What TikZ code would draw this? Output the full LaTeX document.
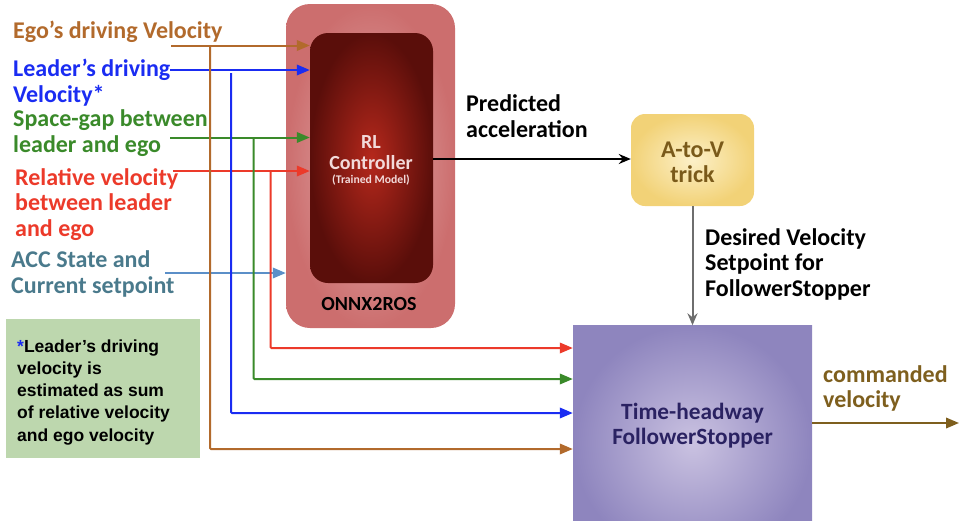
\documentclass[tikz,border=0pt]{standalone}
\usepackage{fontspec}
\setmainfont{Carlito}
\newfontfamily\notefont{Liberation Sans}
\usetikzlibrary{arrows.meta}
\definecolor{egoc}{HTML}{B26A2C}
\definecolor{leadc}{HTML}{1A2CF2}
\definecolor{gapc}{HTML}{3A8A2A}
\definecolor{relc}{HTML}{EC3A2A}
\definecolor{accc}{HTML}{4A7A8C}
\definecolor{acca}{HTML}{5B8FC8}
\definecolor{notec}{HTML}{BDD7AE}
\definecolor{cmdc}{HTML}{7E5F1E}
\definecolor{onnxin}{HTML}{E2AEAE}
\definecolor{onnxout}{HTML}{CC6E6E}
\definecolor{rlin}{HTML}{B5281C}
\definecolor{rlout}{HTML}{5A0E0A}
\definecolor{rltext}{HTML}{F2DADA}
\definecolor{atvin}{HTML}{FCF0C8}
\definecolor{atvout}{HTML}{F2D277}
\definecolor{atvtext}{HTML}{7A5A1A}
\definecolor{fsin}{HTML}{CAC2E1}
\definecolor{fsout}{HTML}{8E85BE}
\definecolor{fstext}{HTML}{2A2262}
\definecolor{grayc}{HTML}{6E6E6E}
\tikzset{
  lbl/.style={inner sep=0pt, anchor=base west, align=left, font=\bfseries\fontsize{24}{25.2}\selectfont},
  inarrow/.style={line width=2pt, -{Triangle[length=13pt,width=10.5pt]}},
  thinarrow/.style={line width=2pt, -{Stealth[length=12pt,width=10pt,inset=4pt]}},
}
\begin{document}
\begin{tikzpicture}[x=1pt,y=-1pt]
\useasboundingbox (0,0) rectangle (959,520);
\begin{scope}
\clip (0,0) rectangle (959,520);
% boxes
\node[rounded corners=24pt, minimum width=169pt, minimum height=324pt,
  inner color=onnxin, outer color=onnxout] (onnx) at (370.5,166) {};
\node[font=\bfseries\fontsize{20}{22}\selectfont, inner sep=0pt, anchor=base] (onnxlbl) at (369,310) {ONNX2ROS};
\node[rounded corners=18pt, minimum width=123pt, minimum height=250pt,
  inner color=rlin, outer color=rlout] (rl) at (371.5,158) {};
\node[text=rltext, font=\bfseries\fontsize{20}{21}\selectfont, inner sep=0pt, anchor=base] (rlt1) at (371,148) {RL};
\node[text=rltext, font=\bfseries\fontsize{20}{21}\selectfont, inner sep=0pt, anchor=base] (rlt2) at (371,169) {Controller};
\node[text=rltext, font=\bfseries\fontsize{11.7}{12}\selectfont, inner sep=0pt, anchor=base] (rlt3) at (371,183.5) {(Trained Model)};
\node[rounded corners=14pt, minimum width=123pt, minimum height=92pt,
  inner color=atvin, outer color=atvout] (atv) at (692.5,160) {};
\node[text=atvtext, font=\bfseries\fontsize{24}{25}\selectfont, align=center, inner sep=0pt] (atvt) at (692.5,162) {A-to-V\\trick};
\node[minimum width=239pt, minimum height=235pt, inner sep=0pt,
  inner color=fsin, outer color=fsout] (fs) at (692.5,443) {};
\node[text=fstext, font=\bfseries\fontsize{23.3}{25}\selectfont, align=center, inner sep=0pt] (fst) at (692.5,426) {Time-headway\\FollowerStopper};
% note box
\node[fill=notec, minimum width=194pt, minimum height=139pt, inner sep=0pt] (note) at (103,388.5) {};
\node[inner sep=0pt, anchor=base west, align=left, font=\notefont\bfseries\fontsize{17.5}{22.2}\selectfont] (notet) at (17,441)
  {\textcolor{leadc}{*}Leader’s driving\\velocity is\\estimated as sum\\of relative velocity\\and ego velocity};
% labels
\node[lbl, text=egoc] (ego) at (13,38) {Ego's driving Velocity};
\node[lbl, text=leadc] (lead) at (13,102) {Leader's driving\\Velocity*};
\node[lbl, text=gapc] (gap) at (13,152) {Space-gap between\\leader and ego};
\node[lbl, text=relc] (rel) at (15,236) {Relative velocity\\between leader\\and ego};
\node[lbl, text=accc] (acc) at (11,293) {ACC State and\\Current setpoint};
\node[lbl, text=black] (pred) at (466,137) {Predicted\\acceleration};
\node[lbl, text=black] (des) at (705,296) {Desired Velocity\\Setpoint for\\FollowerStopper};
\node[lbl, text=cmdc] (cmd) at (823,407.5) {commanded\\velocity};
% coordinates
\coordinate (egoS) at (171,45.5);
\coordinate (leadS) at (170,70);
\coordinate (gapS) at (170,137.5);
\coordinate (relS) at (173,171);
\coordinate (accS) at (165,273);
\coordinate (egoJ) at (210,45.5);
\coordinate (leadJ) at (231,73);
\coordinate (gapJ) at (253.5,137.5);
\coordinate (relJ) at (270.5,171);
\coordinate (outE) at (959,423);
% inputs to RL
\draw[inarrow, egoc] (egoS) -- (egoS -| rl.west);
\draw[inarrow, leadc] (leadS) -- (leadS -| rl.west);
\draw[inarrow, gapc] (gapS) -- (gapS -| rl.west);
\draw[inarrow, relc] (relS) -- (relS -| rl.west);
\draw[inarrow, acca] (accS) -- (accS -| onnx.west);
% branches to FS
\draw[inarrow, relc, rounded corners=1pt] (relJ) |- (fs.west |- 0,348);
\draw[inarrow, gapc, rounded corners=1pt] (gapJ) |- (fs.west |- 0,379);
\draw[inarrow, leadc, rounded corners=1pt] (leadJ) |- (fs.west |- 0,413);
\draw[inarrow, egoc, rounded corners=1pt] (egoJ) |- (fs.west |- 0,449);
% main chain
\draw[thinarrow, black] (rl.east |- 0,159) -- (atv.west |- 0,159);
\draw[thinarrow, grayc] (atv.south) -- (fs.north);
\draw[inarrow, cmdc] (fs.east |- outE) -- (outE);
\end{scope}
\end{tikzpicture}
\end{document}
